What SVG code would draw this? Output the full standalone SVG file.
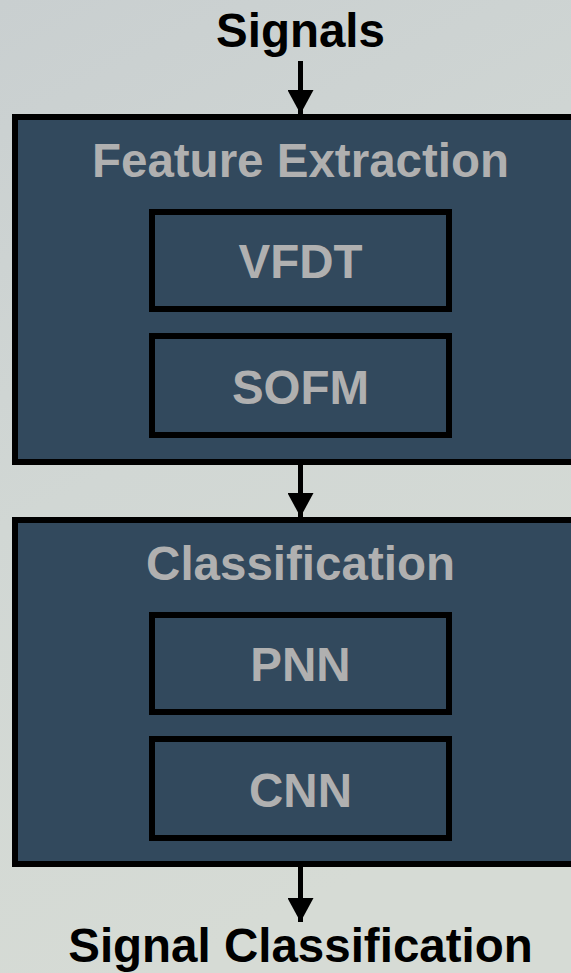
<svg xmlns="http://www.w3.org/2000/svg" width="571" height="973" viewBox="0 0 571 973">
  <defs>
    <linearGradient id="bg" x1="0" y1="0" x2="0.3" y2="1">
      <stop offset="0" stop-color="#c9cfd0"/>
      <stop offset="0.5" stop-color="#d1d7d4"/>
      <stop offset="1" stop-color="#d6dbd5"/>
    </linearGradient>
    <marker id="head" viewBox="0 0 24 26" refX="24" refY="13" markerWidth="24" markerHeight="26" markerUnits="userSpaceOnUse" orient="auto">
      <path d="M0,0 L24,13 L0,26 Z" fill="#000"/>
    </marker>
  </defs>
  <style>
    .outer { fill: #32495d; stroke: #000; stroke-width: 6; }
    .inner { fill: #32495d; stroke: #000; stroke-width: 6; }
    .title { font-family: "Liberation Sans", Arial, sans-serif; font-weight: bold; font-size: 47.5px; fill: #b0b0b0; text-anchor: middle; }
    .label { font-family: "Liberation Sans", Arial, sans-serif; font-weight: bold; font-size: 47.5px; fill: #000; text-anchor: middle; }
    .edge { stroke: #000; stroke-width: 5; fill: none; marker-end: url(#head); }
  </style>

  <rect x="0" y="0" width="571" height="973" fill="url(#bg)"/>

  <g id="signals">
    <text class="label" x="300.5" y="47">Signals</text>
  </g>

  <g id="feature-extraction">
    <rect class="outer" x="15" y="117" width="575" height="345"/>
    <text class="title" x="300.5" y="177">Feature Extraction</text>
  </g>
  <g id="vfdt">
    <rect class="inner" x="152" y="212" width="297" height="97"/>
    <text class="title" x="300.5" y="278">VFDT</text>
  </g>
  <g id="sofm">
    <rect class="inner" x="152" y="336" width="297" height="99"/>
    <text class="title" x="300.5" y="404">SOFM</text>
  </g>

  <g id="classification">
    <rect class="outer" x="15" y="520" width="575" height="344"/>
    <text class="title" x="300.5" y="580">Classification</text>
  </g>
  <g id="pnn">
    <rect class="inner" x="152" y="615" width="297" height="97"/>
    <text class="title" x="300.5" y="681">PNN</text>
  </g>
  <g id="cnn">
    <rect class="inner" x="152" y="739" width="297" height="99"/>
    <text class="title" x="300.5" y="807">CNN</text>
  </g>

  <g id="signal-classification">
    <text class="label" x="300.5" y="962">Signal Classification</text>
  </g>

  <g id="connectors">
    <line class="edge" x1="300.5" y1="61" x2="300.5" y2="114"/>
    <line class="edge" x1="300.5" y1="465" x2="300.5" y2="517"/>
    <line class="edge" x1="300.5" y1="867" x2="300.5" y2="922"/>
  </g>
</svg>
